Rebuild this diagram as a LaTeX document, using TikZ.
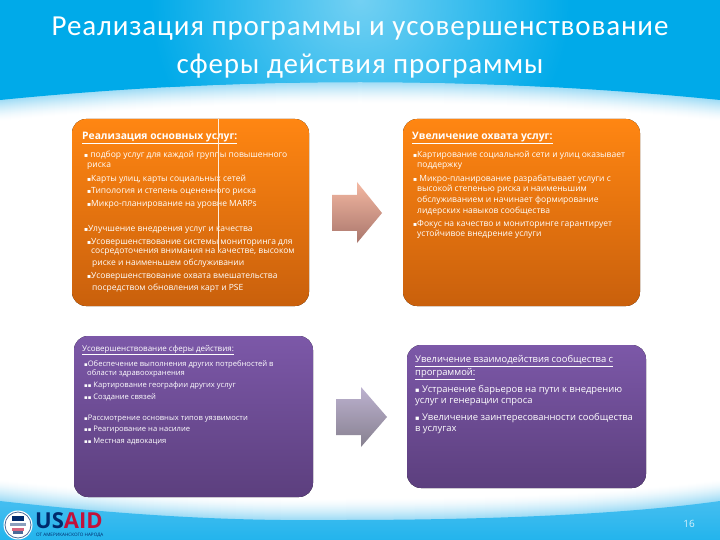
\documentclass[tikz,border=0pt]{standalone}
\usepackage{fontspec}
\setmainfont{Open Sans}
\newfontfamily\titlefont[LetterSpace=3]{Carlito}
\newfontfamily\bulfont{DejaVu Sans}
\newcommand{\bl}{\scalebox{0.7}{\bulfont ▪}}
\definecolor{skyb}{HTML}{00AAE9}
\tikzset{
  x=1pt,y=-1pt,
  orangebox/.style={rounded corners=14pt,top color=orange1,bottom color=orange2,draw=none},
  purplebox/.style={rounded corners=14pt,top color=purple1,bottom color=purple2,draw=none},
  line/.style={anchor=west,inner sep=0pt,yshift=-2pt,text=white,font=\fontsize{8.5}{9}\selectfont},
  pline/.style={anchor=west,inner sep=0pt,yshift=-2pt,text=white,font=\fontsize{7.6}{9}\selectfont},
  phead/.style={anchor=west,inner sep=0pt,yshift=-2pt,text=white,font=\fontsize{8}{9}\selectfont},
  rline/.style={anchor=west,inner sep=0pt,yshift=-2pt,text=white,font=\fontsize{9.4}{10}\selectfont},
  head/.style={anchor=west,inner sep=0pt,yshift=-2pt,text=white,font=\fontsize{10.3}{11}\selectfont\bfseries},
  title/.style={inner sep=0pt,text=white,font=\fontsize{29}{32}\titlefont},
  arrowa/.style={top color=arrow1,bottom color=arrow2,draw=none},
  arrowb/.style={top color=arrow3,bottom color=arrow4,draw=none}
}
\definecolor{orange1}{HTML}{FF8612}
\definecolor{orange2}{HTML}{C9600C}
\definecolor{purple1}{HTML}{7C58A8}
\definecolor{purple2}{HTML}{5C3F7E}
\definecolor{arrow1}{HTML}{F4B8A2}
\definecolor{arrow2}{HTML}{A9766C}
\definecolor{arrow3}{HTML}{BDB2D0}
\definecolor{arrow4}{HTML}{86808F}
\definecolor{glowb}{HTML}{9ADAF5}
\definecolor{botlight}{HTML}{45BEF0}
\definecolor{navyusaid}{HTML}{002A6C}
\definecolor{redusaid}{HTML}{C2113A}
\def\toppath{(0,100) .. controls (120,88) and (240,82) .. (360,82) .. controls (480,82) and (600,88) .. (720,100) -- (720,-40) -- (0,-40) -- cycle}
\def\botpath{(0,501) .. controls (150,518) and (250,521) .. (340,520) .. controls (480,520) and (620,515) .. (720,501) -- (720,580) -- (0,580) -- cycle}
\begin{document}
\begin{tikzpicture}
\useasboundingbox (0,0) rectangle (720,540);
\begin{scope}
\clip (0,0) rectangle (720,540);
\fill[white] (0,0) rectangle (720,540);
\foreach \i in {22,...,1}{
  \pgfmathsetmacro\m{100*(1-\i/22)^1.5}
  \fill[glowb!\m!white,yshift=-\i pt] \toppath;
  \fill[glowb!\m!white,yshift=\i pt] \botpath;
}
\begin{scope}
  \clip \toppath;
  \fill[skyb] (0,0) rectangle (720,110);
  \shade[inner color=skyb!55!white,outer color=skyb] (360,0) circle (210);
\end{scope}
\shade[top color=botlight,bottom color=skyb] \botpath;
\end{scope}

\node[title] (t1) at (360,29) {Реализация программы и усовершенствование};
\node[title] (t2) at (360,66) {сферы действия программы};

\fill[orangebox] (72,119) rectangle (309,306);
\fill[orangebox] (403,119) rectangle (640,306);
\fill[purplebox] (74,336) rectangle (313,497);
\fill[purplebox] (407,345) rectangle (646,488);

\shade[arrowa] (332,195) -- (357,195) -- (357,182) -- (382,213) -- (357,243) -- (357,231) -- (332,231) -- cycle;
\shade[arrowb] (336,399) -- (361,399) -- (361,387) -- (387,417) -- (361,447) -- (361,435) -- (336,435) -- cycle;

% upper left
\node[head] (a0) at (82,136) {\underline{Реализация основных услуг:}};
\node[line] (a1) at (84,153) {\bl{} подбор услуг для каждой группы повышенного};
\node[line] (a2) at (87,164) {риска};
\node[line] (a3) at (87,177) {\bl{}Карты улиц, карты социальных сетей};
\node[line] (a4) at (87,189) {\bl{}Типология и степень оцененного риска};
\node[line] (a5) at (87,202) {\bl{}Микро-планирование на уровне MARPs};
\node[line] (a6) at (84,227) {\bl{}Улучшение внедрения услуг и качества};
\node[line] (a7) at (87,240) {\bl{}Усовершенствование системы мониторинга для};
\node[line] (a8) at (91,250) {сосредоточения внимания на качестве, высоком};
\node[line] (a9) at (92,261) {риске и наименьшем обслуживании};
\node[line] (a10) at (87,274) {\bl{}Усовершенствование охвата вмешательства};
\node[line] (a11) at (92,286) {посредством обновления карт и PSE};
\draw[white!85!orange1,line width=0.8pt] (218,119) -- (218,250);

% upper right
\node[head] (b0) at (412,136) {\underline{Увеличение охвата услуг:}};
\node[line] (b1) at (413,153) {\bl{}Картирование социальной сети и улиц оказывает};
\node[line] (b2) at (417,164) {поддержку};
\node[line] (b3) at (413,177) {\bl{} Микро-планирование разрабатывает услуги с};
\node[line] (b4) at (417,187) {высокой степенью риска и наименьшим};
\node[line] (b5) at (417,198) {обслуживанием и начинает формирование};
\node[line] (b6) at (417,209) {лидерских навыков сообщества};
\node[line] (b7) at (413,222) {\bl{}Фокус на качество и мониторинге гарантирует};
\node[line] (b8) at (417,232) {устойчивое внедрение услуги};

% lower left
\node[phead] (c0) at (82,348) {\underline{Усовершенствование сферы действия:}};
\node[pline] (c1) at (84,362) {\bl{}Обеспечение выполнения других потребностей в};
\node[pline] (c2) at (87,371) {области здравоохранения};
\node[pline] (c3) at (84,384) {\bl{}\bl{} Картирование географии других услуг};
\node[pline] (c4) at (84,395) {\bl{}\bl{} Создание связей};
\node[pline] (c5) at (84,417) {\bl{}Рассмотрение основных типов уязвимости};
\node[pline] (c6) at (84,428) {\bl{}\bl{} Реагирование на насилие};
\node[pline] (c7) at (84,439) {\bl{}\bl{} Местная адвокация};

% lower right
\node[rline] (d0) at (415,359) {\underline{Увеличение взаимодействия сообщества с}};
\node[rline] (d1) at (415,372) {\underline{программой:}};
\node[rline] (d2) at (415,388) {\bl{} Устранение барьеров на пути к внедрению};
\node[rline] (d3) at (415,400) {услуг и генерации спроса};
\node[rline] (d4) at (415,416) {\bl{} Увеличение заинтересованности сообщества};
\node[rline] (d5) at (415,428) {в услугах};

\node[inner sep=0pt,text=white!85!skyb,font=\fontsize{10}{11}\selectfont] (num) at (689,524) {16};

% logo
\fill[white] (18,525) circle (14.5);
\draw[navyusaid!70!white,line width=0.8pt] (18,525) circle (13);
\fill[navyusaid] (12,516) rectangle (24,520.5);
\fill[navyusaid!45!white] (10,523) rectangle (26,526);
\fill[redusaid!65!white] (12,528) rectangle (24,531);
\fill[navyusaid!70!white] (13,531) rectangle (23,534);
\node[anchor=west,inner sep=0pt,font=\fontsize{22}{24}\bfseries\selectfont] (usaid) at (35,520.5) {\textcolor{navyusaid}{US}\textcolor{redusaid}{AID}};
\node[anchor=west,inner sep=0pt,text=navyusaid,font=\fontsize{4.6}{5}\selectfont] (tag) at (36,535) {ОТ АМЕРИКАНСКОГО НАРОДА};
\end{tikzpicture}
\end{document}
